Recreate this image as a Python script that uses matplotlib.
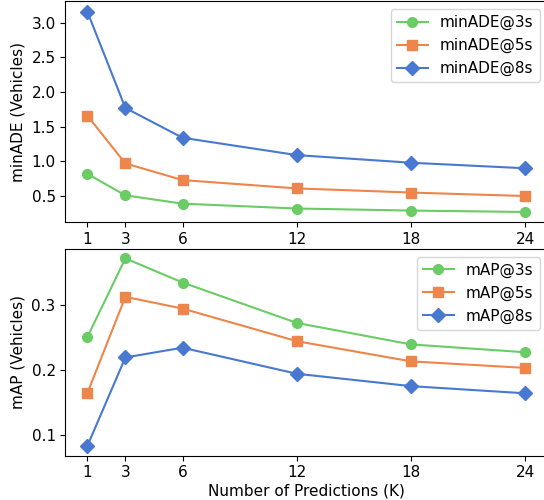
import matplotlib
matplotlib.use("Agg")
import matplotlib.pyplot as plt

ks = [1, 3, 6, 12, 18, 24]

min_ade_3s = [0.82, 0.51, 0.39, 0.32, 0.29, 0.27]
min_ade_5s = [1.66, 0.97, 0.73, 0.61, 0.55, 0.50]
min_ade_8s = [3.16, 1.77, 1.34, 1.09, 0.98, 0.90]

map_3s = [0.250, 0.371, 0.334, 0.272, 0.239, 0.227]
map_5s = [0.164, 0.312, 0.294, 0.244, 0.213, 0.203]
map_8s = [0.083, 0.219, 0.234, 0.194, 0.175, 0.164]

green = "#6acc64"
orange = "#ee854a"
blue = "#4878d0"
fs = 11

# the source image is cropped on the right, so the right spine falls just outside
fig = plt.figure(figsize=(5.44, 5.0), dpi=100)
ax1 = fig.add_axes([0.1202, 0.556, 0.8857, 0.441])
ax2 = fig.add_axes([0.1202, 0.089, 0.8857, 0.413])

ax1.plot(ks, min_ade_3s, "-o", color=green, ms=7, lw=1.5, label="minADE@3s")
ax1.plot(ks, min_ade_5s, "-s", color=orange, ms=7, lw=1.5, label="minADE@5s")
ax1.plot(ks, min_ade_8s, "-D", color=blue, ms=7, lw=1.5, label="minADE@8s")
ax1.set_ylabel("minADE (Vehicles)", fontsize=fs)
ax1.set_xticks(ks)
ax1.set_yticks([0.5, 1.0, 1.5, 2.0, 2.5, 3.0])
ax1.legend(loc="upper right", fontsize=fs)

ax2.plot(ks, map_3s, "-o", color=green, ms=7, lw=1.5, label="mAP@3s")
ax2.plot(ks, map_5s, "-s", color=orange, ms=7, lw=1.5, label="mAP@5s")
ax2.plot(ks, map_8s, "-D", color=blue, ms=7, lw=1.5, label="mAP@8s")
ax2.set_ylabel("mAP (Vehicles)", fontsize=fs)
ax2.set_xlabel("Number of Predictions (K)", fontsize=fs, labelpad=2)
ax2.set_xticks(ks)
ax2.set_yticks([0.1, 0.2, 0.3])
ax2.legend(loc="upper right", fontsize=fs)

for ax in (ax1, ax2):
    ax.tick_params(labelsize=fs)

fig.savefig("out.png", dpi=100)
